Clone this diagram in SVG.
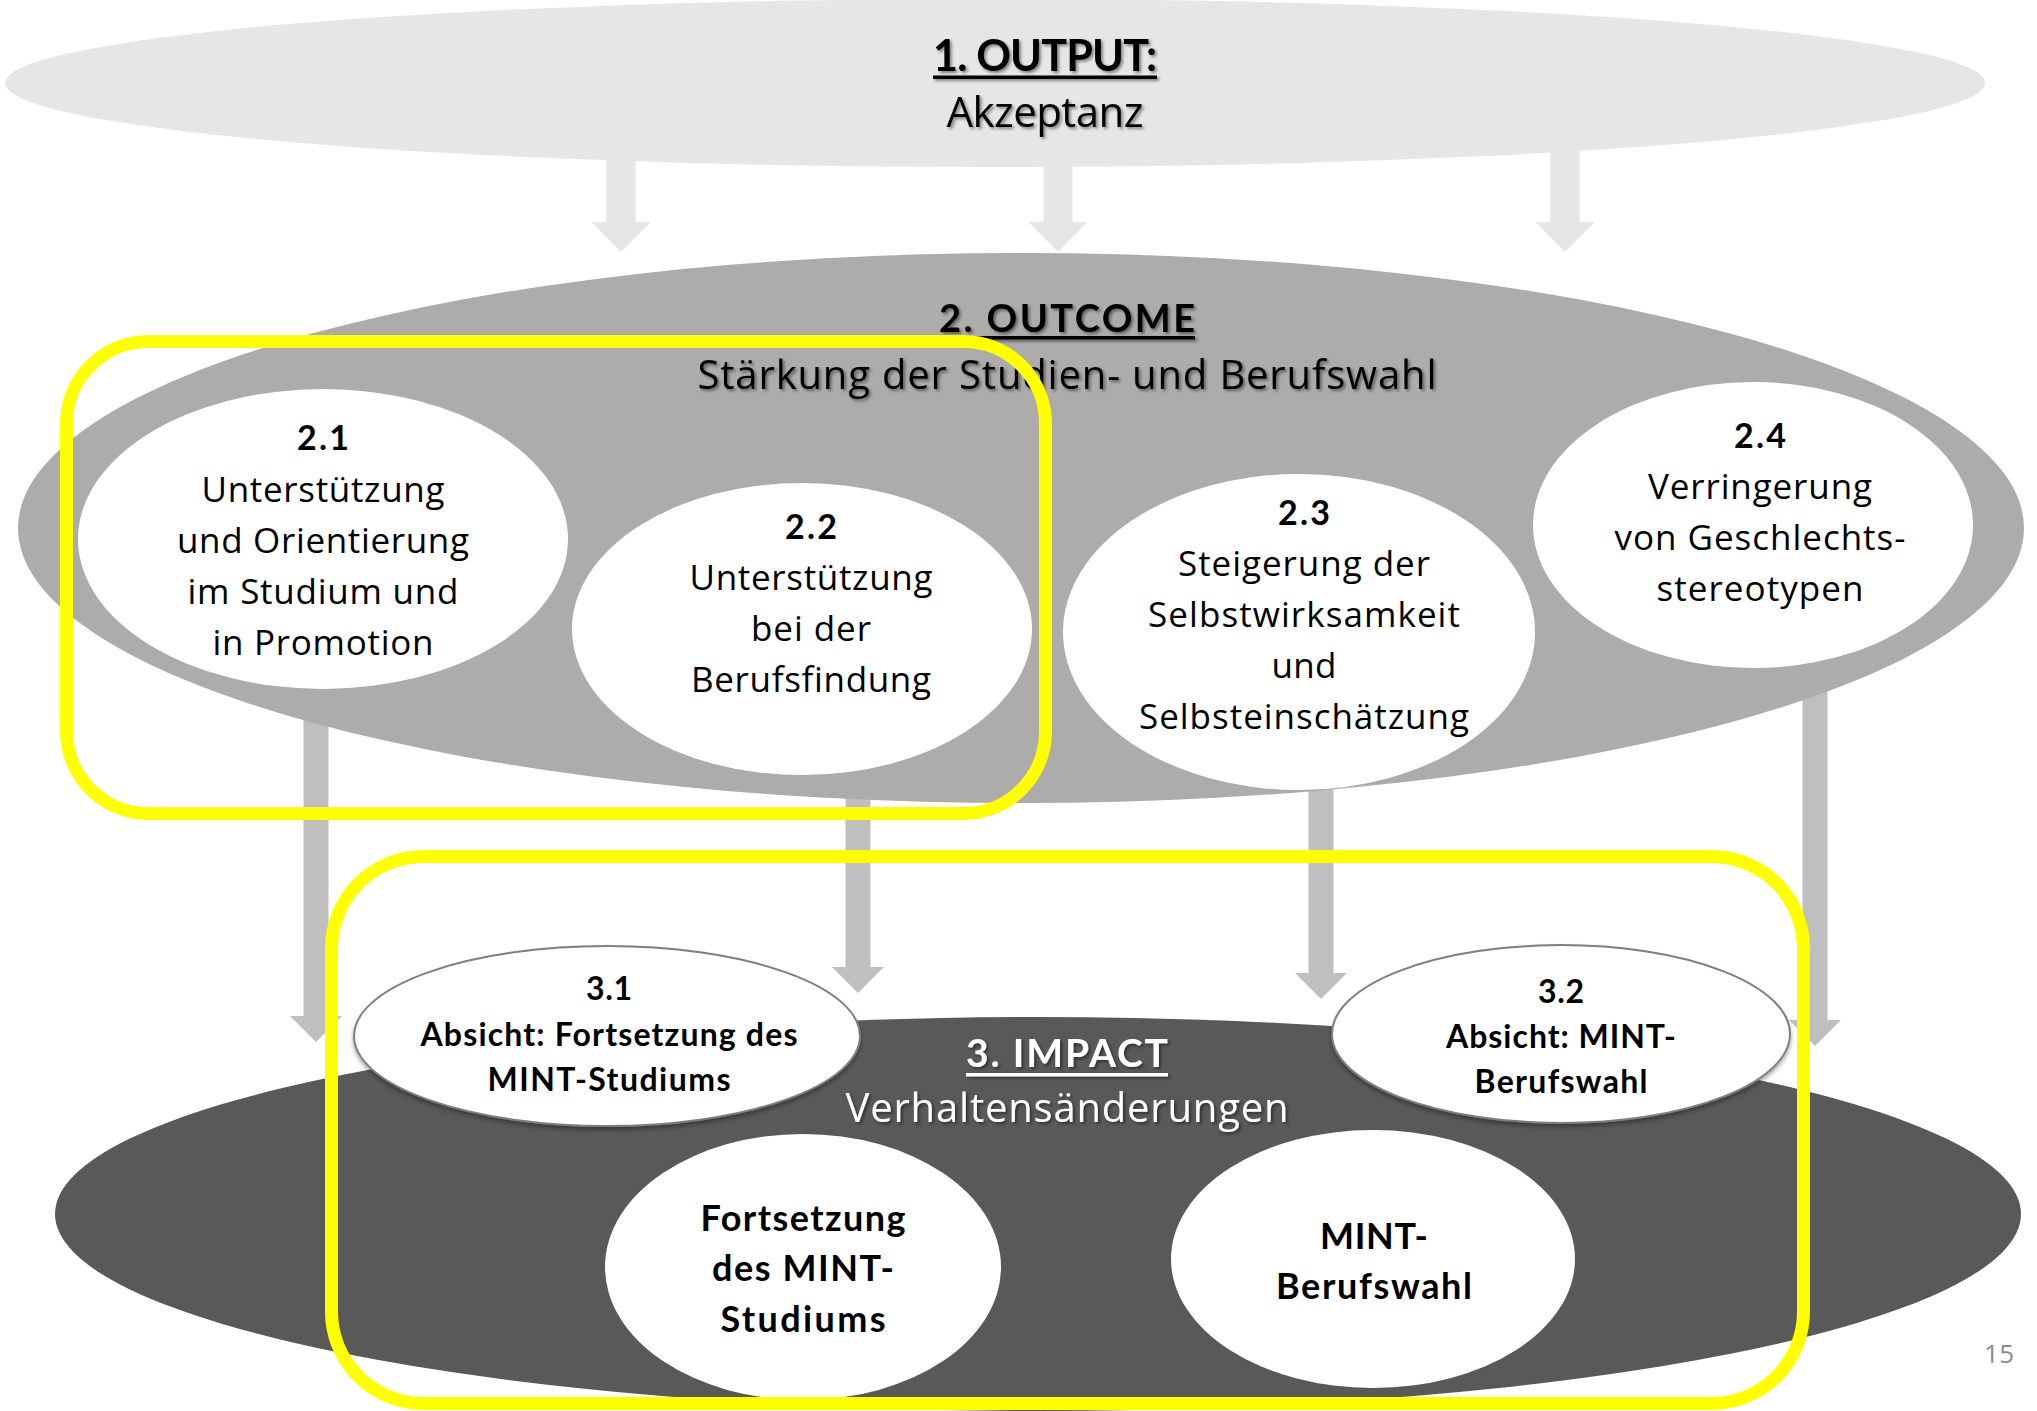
<svg xmlns="http://www.w3.org/2000/svg" width="2037" height="1411" viewBox="0 0 2037 1411">
<defs>
<style>
.t{font-family:Lato,"Open Sans","Liberation Sans",sans-serif;text-anchor:middle;fill:#000;font-variant-ligatures:none}
.r{font-family:"Open Sans",Lato,"Liberation Sans",sans-serif}
.b{font-weight:700}
.n{font-size:35px}
.nb{font-size:34px;font-weight:700}
.s{font-size:32px;font-weight:700}
.m{font-size:36px;font-weight:700}
.w{fill:#fff}
.arrO{fill:#e6e6e6}
.arrC{fill:#bfbfbf}
.yel{fill:none;stroke:#ffff00;stroke-width:13}
.wh{fill:#fff}
.ab{fill:#fff;stroke:#7f7f7f;stroke-width:2}
</style>
<filter id="ts" x="-10%" y="-40%" width="120%" height="180%">
<feDropShadow dx="2" dy="2" stdDeviation="1.5" flood-color="#000" flood-opacity="0.45"/>
</filter>
<filter id="es" x="-10%" y="-10%" width="120%" height="130%">
<feDropShadow dx="0" dy="3" stdDeviation="2" flood-color="#000" flood-opacity="0.35"/>
</filter>
</defs>
<rect width="2037" height="1411" fill="#fff"/>

<g id="connectors">
<path class="arrO" d="M606.5,140 H635.5 V222 H650.5 L621,252 L591.5,222 H606.5 Z"/>
<path class="arrO" d="M1043.5,140 H1072.5 V222 H1087.5 L1058,252 L1028.5,222 H1043.5 Z"/>
<path class="arrO" d="M1550.5,140 H1579.5 V222 H1594.5 L1565,252 L1535.5,222 H1550.5 Z"/>
<path class="arrC" d="M303.5,690 H328.5 V1016 H342 L316,1042 L290,1016 H303.5 Z"/>
<path class="arrC" d="M845.5,760 H870.5 V967 H884 L858,993 L832,967 H845.5 Z"/>
<path class="arrC" d="M1308.5,770 H1333.5 V973 H1347 L1321,999 L1295,973 H1308.5 Z"/>
<path class="arrC" d="M1802.5,690 H1827.5 V1020 H1841 L1815,1046 L1789,1020 H1802.5 Z"/>
</g>

<g id="output">
<ellipse cx="995" cy="83" rx="990" ry="84" fill="#e7e6e6"/>
<g filter="url(#ts)">
<text class="t b" x="1045" y="71" font-size="43" textLength="224">1. OUTPUT:</text>
<rect x="933" y="75.5" width="224" height="3.5" fill="#000"/>
<text class="t r" x="1045" y="127" font-size="42" textLength="197">Akzeptanz</text>
</g>
</g>

<g id="outcome">
<ellipse cx="1021" cy="528" rx="1003" ry="275" fill="#aeabab"/>
<g filter="url(#ts)">
<text class="t b" x="1067" y="332" font-size="38" textLength="256">2. OUTCOME</text>
<rect x="939" y="336" width="256" height="3.5" fill="#000"/>
<text class="t r" x="1067" y="389" font-size="40" textLength="739">Stärkung der Studien- und Berufswahl</text>
</g>
</g>

<g id="impact">
<ellipse cx="1038" cy="1214" rx="983" ry="197" fill="#595959"/>
<g filter="url(#ts)">
<text class="t b w" x="1067" y="1067" font-size="39" textLength="202">3. IMPACT</text>
<rect x="966" y="1073" width="202" height="3.5" fill="#fff"/>
<text class="t r w" x="1067" y="1122" font-size="40" textLength="443">Verhaltensänderungen</text>
</g>
</g>

<g id="node-2-1">
<ellipse class="wh" cx="323" cy="539" rx="245" ry="150"/>
<text class="t nb" x="323" y="450" textLength="52">2.1</text>
<text class="t r n" x="323" y="502" textLength="243">Unterstützung</text>
<text class="t r n" x="323" y="553" textLength="292">und Orientierung</text>
<text class="t r n" x="323" y="604" textLength="271">im Studium und</text>
<text class="t r n" x="323" y="655" textLength="221">in Promotion</text>
</g>

<g id="node-2-2">
<ellipse class="wh" cx="802" cy="629" rx="230" ry="146"/>
<text class="t nb" x="811" y="539" textLength="52">2.2</text>
<text class="t r n" x="811" y="590" textLength="243">Unterstützung</text>
<text class="t r n" x="811" y="641" textLength="120">bei der</text>
<text class="t r n" x="811" y="692" textLength="240">Berufsfindung</text>
</g>

<g id="node-2-3">
<ellipse class="wh" cx="1299" cy="632" rx="236" ry="158"/>
<text class="t nb" x="1304" y="525" textLength="52">2.3</text>
<text class="t r n" x="1304" y="576" textLength="252">Steigerung der</text>
<text class="t r n" x="1304" y="627" textLength="312">Selbstwirksamkeit</text>
<text class="t r n" x="1304" y="678" textLength="65">und</text>
<text class="t r n" x="1304" y="729" textLength="330">Selbsteinschätzung</text>
</g>

<g id="node-2-4">
<ellipse class="wh" cx="1753" cy="525" rx="220" ry="143"/>
<text class="t nb" x="1760" y="448" textLength="52">2.4</text>
<text class="t r n" x="1760" y="499" textLength="224">Verringerung</text>
<text class="t r n" x="1760" y="550" textLength="291">von Geschlechts-</text>
<text class="t r n" x="1760" y="601" textLength="207">stereotypen</text>
</g>

<g id="node-3-1">
<ellipse class="ab" cx="607" cy="1036" rx="253" ry="90" filter="url(#es)"/>
<text class="t s" x="609" y="1000" textLength="46">3.1</text>
<text class="t s" x="609" y="1046" textLength="377">Absicht: Fortsetzung des</text>
<text class="t s" x="609" y="1091" textLength="243">MINT-Studiums</text>
</g>

<g id="node-3-2">
<ellipse class="ab" cx="1561" cy="1034" rx="229" ry="89" filter="url(#es)"/>
<text class="t s" x="1561" y="1003" textLength="46">3.2</text>
<text class="t s" x="1561" y="1048" textLength="230">Absicht: MINT-</text>
<text class="t s" x="1561" y="1093" textLength="173">Berufswahl</text>
</g>

<g id="node-fortsetzung">
<ellipse class="wh" cx="803" cy="1267" rx="198" ry="133"/>
<text class="t m" x="803" y="1231" textLength="205">Fortsetzung</text>
<text class="t m" x="803" y="1281" textLength="182">des MINT-</text>
<text class="t m" x="803" y="1332" textLength="165">Studiums</text>
</g>

<g id="node-mint-berufswahl">
<ellipse class="wh" cx="1373" cy="1259" rx="202" ry="129"/>
<text class="t m" x="1374" y="1249" textLength="108">MINT-</text>
<text class="t m" x="1374" y="1299" textLength="196">Berufswahl</text>
</g>

<g id="highlight-outcome">
<rect class="yel" x="66.5" y="341.5" width="979" height="472" rx="82" ry="82"/>
</g>
<g id="highlight-impact">
<rect class="yel" x="331.5" y="856.5" width="1472" height="547" rx="92" ry="92"/>
</g>

<text class="t r" x="1999" y="1363" font-size="26" style="fill:#8b8b8b" textLength="30">15</text>
</svg>
